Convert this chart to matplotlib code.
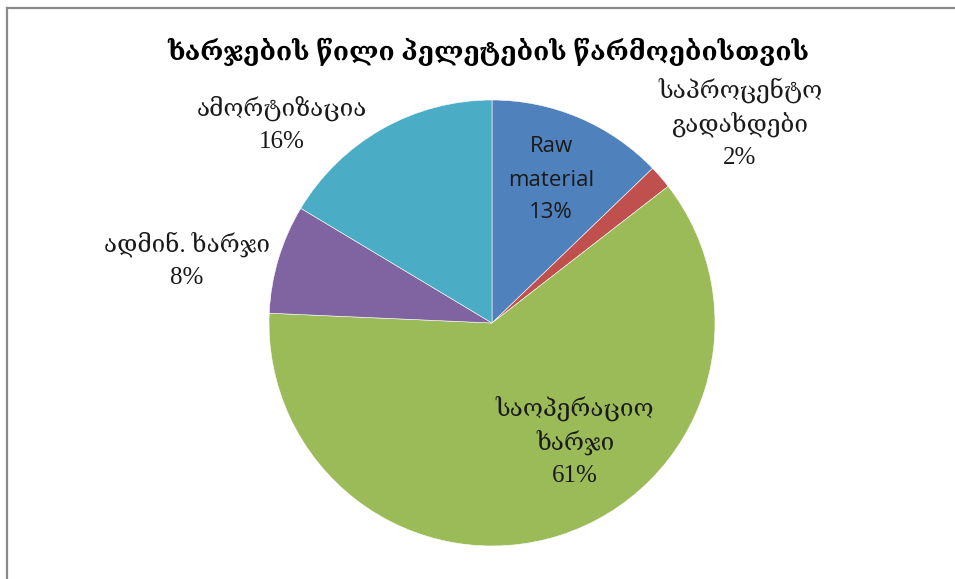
import matplotlib
matplotlib.use("Agg")
import matplotlib.pyplot as plt

# Cost shares for pellet production (percent)
categories = ["Raw\nmaterial", "საპროცენტო\nგადახდები", "საოპერაციო\nხარჯი", "ადმინ. ხარჯი", "ამორტიზაცია"]
shares = [12.8, 1.7, 61.2, 7.9, 16.4]
colors = ["#4F81BD", "#C0504D", "#9BBB59", "#8064A2", "#4BACC6"]
title = "ხარჯების წილი პელეტების წარმოებისთვის"

W, H = 955, 579
fig = plt.figure(figsize=(W / 100, H / 100), dpi=100)

# chart frame (top and left edges visible)
fig.add_artist(plt.Line2D([7 / W, 7 / W], [0, 1 - 8 / H], transform=fig.transFigure,
                          color="#8a8a8a", lw=1.6))
fig.add_artist(plt.Line2D([7 / W, 1], [1 - 8 / H, 1 - 8 / H], transform=fig.transFigure,
                          color="#8a8a8a", lw=1.6))

cx, cy, r = 492, 323, 223
ax = fig.add_axes([(cx - r) / W, (H - cy - r) / H, 2 * r / W, 2 * r / H])

ax.pie(shares, colors=colors, startangle=90, counterclock=False, radius=1,
       wedgeprops=dict(edgecolor="white", linewidth=0.4))
ax.set_xlim(-1, 1)
ax.set_ylim(-1, 1)
ax.axis("off")

serif = ["Liberation Serif", "DejaVu Serif"]

def px(x, y):
    return ((x - cx) / r, (cy - y) / r)

# label anchor points (pixel centres of the text blocks)
label_pos = [(551, 180), (740, 124), (575, 442), (187, 261), (282, 125)]
for i, (name, val) in enumerate(zip(categories, shares)):
    x, y = px(*label_pos[i])
    lines = name.split("\n") + [f"{round(val)}%"]
    n = len(lines)
    step = (33 if i == 0 else 34) / r
    for j, line in enumerate(lines):
        yy = y + (n - 1) / 2 * step - j * step
        if i == 0:
            ax.text(x, yy, line, ha="center", va="center", fontsize=16,
                    family=["Open Sans", "DejaVu Sans"], color="#1a1a1a")
        else:
            is_num = j == n - 1
            ax.text(x, yy, line, ha="center", va="center",
                    fontsize=18 if is_num else 17.5, family=serif, color="#1a1a1a")

fig.text(488 / W, 1 - 52 / H, title, ha="center", va="center", fontsize=19,
         fontweight="bold", family=serif, color="black")

fig.savefig("out.png", dpi=100, facecolor="white")
